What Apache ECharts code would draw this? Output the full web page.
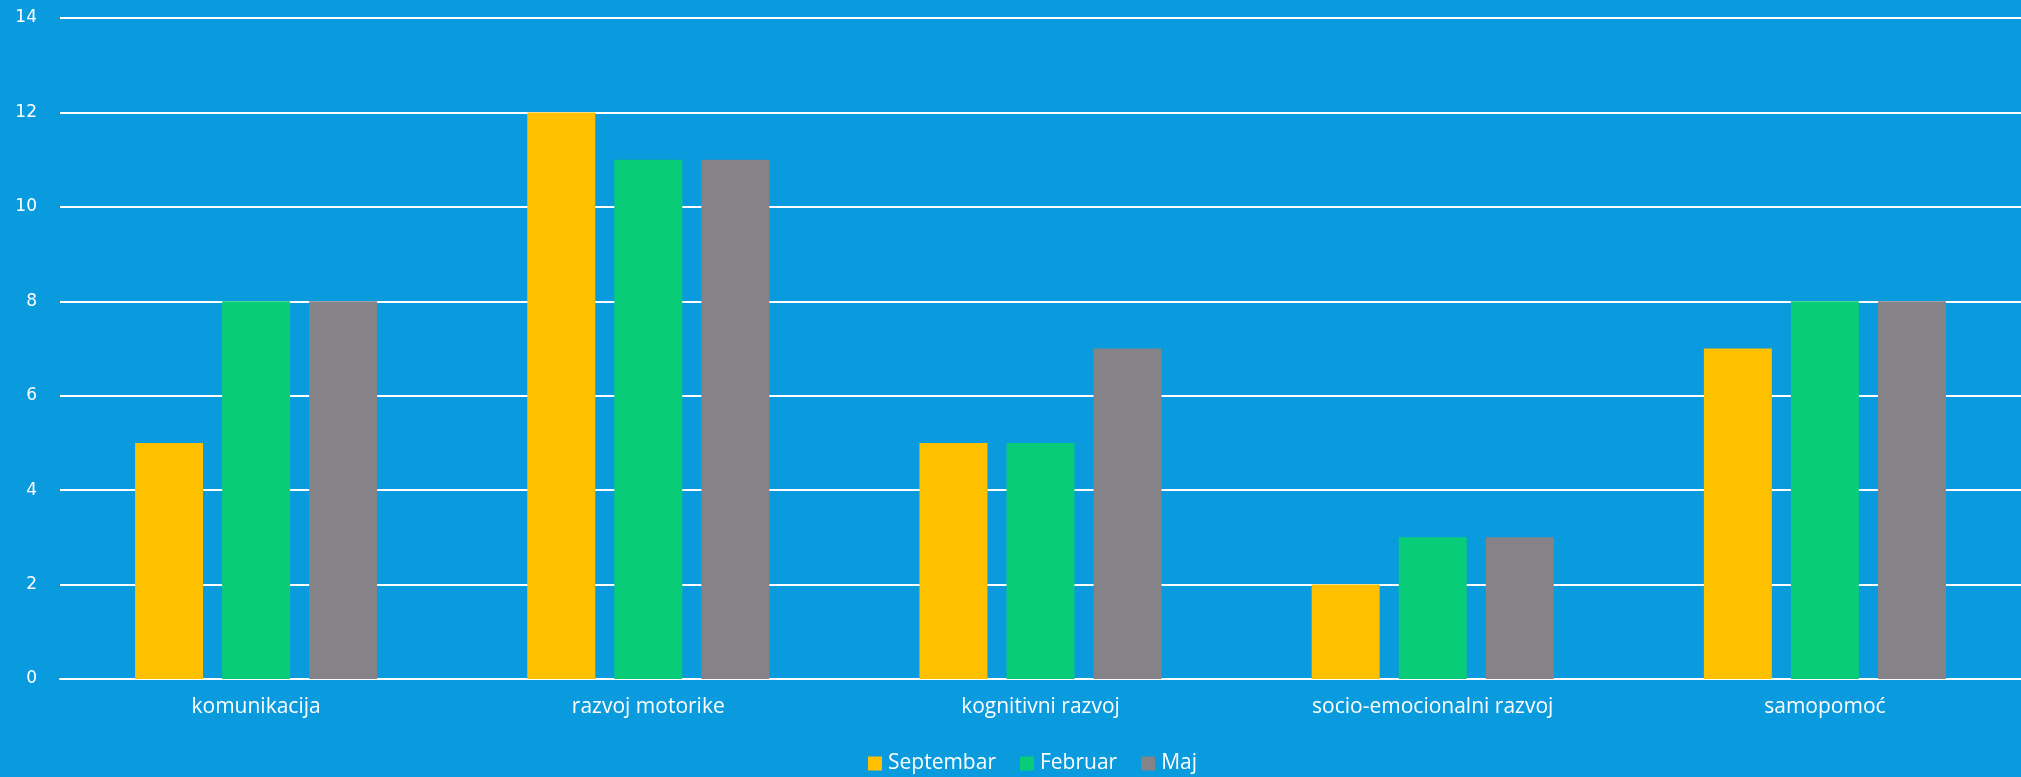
<!DOCTYPE html>
<html><head><meta charset="utf-8">
<script src="https://cdn.jsdelivr.net/npm/echarts@6/dist/echarts.min.js"></script>
<style>html,body{margin:0;padding:0;background:#0A9ADE;}#c{width:2021px;height:777px;}</style>
</head><body><div id="c"></div>
<script>
const categories = ['komunikacija','razvoj motorike','kognitivni razvoj','socio-emocionalni razvoj','samopomoć'];
const septembar = [5,12,5,2,7];
const februar = [8,11,5,3,8];
const maj = [8,11,7,3,8];
const seriesNames = ['Septembar','Februar','Maj'];
const colors = ['#FFC000','#08CC78','#858388'];

const chart = echarts.init(document.getElementById('c'));
const mk = (name, data, i) => ({
  name, type:'bar', data, barWidth:68, barGap:'28%',
  itemStyle:{color:colors[i]}
});
chart.setOption({
  backgroundColor:'#0A9ADE',
  animation:false,
  grid:{left:60,right:0,top:18,bottom:98},
  legend:{
    bottom:-2, left:863, itemWidth:14, itemHeight:14, itemGap:24,
    icon:'rect',
    textStyle:{color:'#fff', fontSize:21, fontFamily:'Open Sans', padding:[0,0,0,1]},
    data:seriesNames
  },
  xAxis:{
    type:'category', data:categories,
    axisLine:{lineStyle:{color:'#fff',width:2}},
    axisTick:{show:false},
    axisLabel:{color:'#fff',fontSize:21,fontFamily:'Open Sans',margin:18}
  },
  yAxis:{
    type:'value', min:0, max:14, interval:2,
    axisLine:{show:false}, axisTick:{show:false},
    splitLine:{lineStyle:{color:'#fff',width:2}},
    axisLabel:{color:'#fff',fontSize:17,fontFamily:'DejaVu Sans',margin:23}
  },
  series:[mk(seriesNames[0],septembar,0),mk(seriesNames[1],februar,1),mk(seriesNames[2],maj,2)]
});
</script></body></html>
